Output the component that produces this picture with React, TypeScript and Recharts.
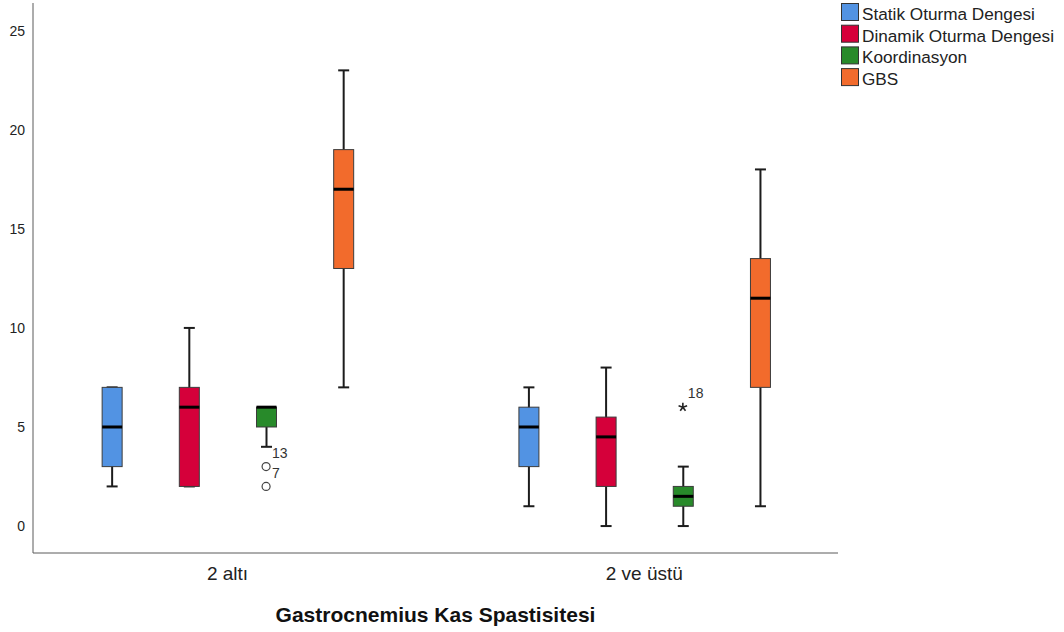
import React from 'react';
import { ComposedChart, Bar, Scatter, XAxis, YAxis, Label } from 'recharts';

// ---- data ----
const groups = ['2 altı', '2 ve üstü'];
const seriesNames = ['Statik Oturma Dengesi', 'Dinamik Oturma Dengesi', 'Koordinasyon', 'GBS'];
// per group, per series
const minValues = [
  [2, 2, 4, 7],
  [1, 0, 0, 1],
];
const q1Values = [
  [3, 2, 5, 13],
  [3, 2, 1, 7],
];
const medianValues = [
  [5, 6, 6, 17],
  [5, 4.5, 1.5, 11.5],
];
const q3Values = [
  [7, 7, 6, 19],
  [6, 5.5, 2, 13.5],
];
const maxValues = [
  [7, 10, 6, 23],
  [7, 8, 3, 18],
];
const outlierGroups = [0, 0, 1];
const outlierSeries = [2, 2, 2];
const outlierValues = [3, 2, 6];
const outlierLabels = ['13', '7', '18'];
const outlierKinds = ['circle', 'circle', 'star'];
const yTicks = [0, 5, 10, 15, 20, 25];

// ---- styling / layout ----
const seriesColors = ['#5293E3', '#D5003A', '#288A2A', '#F26B2C'];
const FONT = '"Liberation Sans", Arial, Helvetica, sans-serif';
const SLOT_OFFSET = 1.02;
const GROUP_SPAN = 5.4;
const X_DOMAIN: [number, number] = [0, 10.43];
const xPos = (g: number, s: number) => g * GROUP_SPAN + s + SLOT_OFFSET;

const boxData = groups.flatMap((_, gi) =>
  seriesNames.map((__, si) => ({
    x: xPos(gi, si),
    series: si,
    min: minValues[gi][si],
    q1: q1Values[gi][si],
    med: medianValues[gi][si],
    q3: q3Values[gi][si],
    max: maxValues[gi][si],
    range: [minValues[gi][si], maxValues[gi][si]],
  }))
);

const outlierData = outlierValues.map((v, i) => ({
  x: xPos(outlierGroups[i], outlierSeries[i]),
  value: v,
  label: outlierLabels[i],
  kind: outlierKinds[i],
}));

const groupTicks = groups.map((_, gi) => xPos(gi, 1.5));

function BoxShape(props: any) {
  const { x, y, width, height } = props;
  const p = props.payload ?? props;
  if (x == null || y == null) return null;
  const top = Math.min(y, y + height);
  const bottom = Math.max(y, y + height);
  const span = p.max - p.min;
  const py = (v: number) => (span === 0 ? bottom : bottom - ((v - p.min) / span) * (bottom - top));
  const cx = x + width / 2;
  const capHalf = 5.5;
  const color = seriesColors[p.series];
  return (
    <g>
      <line x1={cx} x2={cx} y1={py(p.max)} y2={py(p.min)} stroke="#1c1c1c" strokeWidth={2} />
      <line x1={cx - capHalf} x2={cx + capHalf} y1={py(p.max)} y2={py(p.max)} stroke="#1c1c1c" strokeWidth={2} />
      <line x1={cx - capHalf} x2={cx + capHalf} y1={py(p.min)} y2={py(p.min)} stroke="#1c1c1c" strokeWidth={2} />
      <rect
        x={x}
        y={py(p.q3)}
        width={width}
        height={Math.max(py(p.q1) - py(p.q3), 0)}
        fill={color}
        stroke="#3c3c3c"
        strokeWidth={1}
      />
      <line x1={x} x2={x + width} y1={py(p.med)} y2={py(p.med)} stroke="#000" strokeWidth={3} />
    </g>
  );
}

function OutlierShape(props: any) {
  const { cx, cy } = props;
  const p = props.payload ?? props;
  if (cx == null || cy == null) return null;
  if (p.kind === 'star') {
    const arms = [0, 1, 2, 3, 4].map((i) => {
      const a = -Math.PI / 2 + (i * 2 * Math.PI) / 5;
      return (
        <line
          key={i}
          x1={cx}
          y1={cy}
          x2={cx + 4.5 * Math.cos(a)}
          y2={cy + 4.5 * Math.sin(a)}
          stroke="#222"
          strokeWidth={1.6}
        />
      );
    });
    return (
      <g>
        {arms}
        <text x={cx + 5} y={cy - 9} fontSize={14} fontFamily={FONT} fill="#333">
          {p.label}
        </text>
      </g>
    );
  }
  return (
    <g>
      <circle cx={cx} cy={cy} r={4} fill="#fff" stroke="#444" strokeWidth={1.2} />
      <text x={cx + 6} y={cy - 8.5} fontSize={14} fontFamily={FONT} fill="#333">
        {p.label}
      </text>
    </g>
  );
}

function LegendBox() {
  return (
    <svg
      width={230}
      height={100}
      style={{ position: 'absolute', left: 834, top: 0, overflow: 'visible' }}
    >
      {seriesNames.map((name, i) => (
        <g key={name} transform={`translate(0, ${i * 21.7})`}>
          <rect x={7.5} y={3.5} width={17} height={17} fill={seriesColors[i]} stroke="#333" strokeWidth={1} />
          <text x={28} y={20} fontSize={17.2} fontFamily={FONT} fill="#222">
            {name}
          </text>
        </g>
      ))}
    </svg>
  );
}

export default function App() {
  return (
    <div
      style={{
        position: 'absolute',
        left: 0,
        top: 0,
        width: 1064,
        height: 632,
        background: '#fff',
        fontFamily: FONT,
      }}
    >
      <ComposedChart
        width={1064}
        height={632}
        data={boxData}
        margin={{ top: 3, right: 226, bottom: 49, left: 0 }}
      >
        <XAxis
          type="number"
          dataKey="x"
          domain={X_DOMAIN}
          allowDataOverflow
          ticks={groupTicks}
          interval={0}
          tickFormatter={(v: number) => {
            const idx = groupTicks.findIndex((t) => Math.abs(t - v) < 1e-6);
            return idx >= 0 ? groups[idx] : '';
          }}
          height={30}
          tickLine={false}
          tickMargin={8}
          axisLine={{ stroke: '#5a5a5a', strokeWidth: 1 }}
          tick={{ fontSize: 19, fill: '#222', fontFamily: FONT }}
        >
          <Label
            value="Gastrocnemius Kas Spastisitesi"
            position="bottom"
            offset={24}
            style={{ fontWeight: 'bold', fontSize: 21, fill: '#111', fontFamily: FONT }}
          />
        </XAxis>
        <YAxis
          type="number"
          domain={[-1.36, 26.4]}
          allowDataOverflow
          ticks={yTicks}
          interval={0}
          width={33}
          tickLine={false}
          axisLine={{ stroke: '#5a5a5a', strokeWidth: 1 }}
          tick={{ fontSize: 14, fill: '#222', fontFamily: FONT }}
        />
        <Bar dataKey="range" barSize={20} shape={BoxShape} isAnimationActive={false} />
        <Scatter data={outlierData} dataKey="value" shape={OutlierShape} isAnimationActive={false} />
      </ComposedChart>
      <LegendBox />
    </div>
  );
}
